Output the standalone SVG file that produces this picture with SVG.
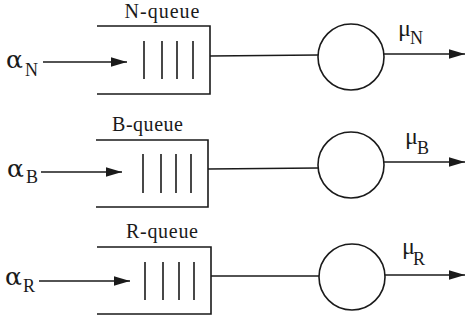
<svg xmlns="http://www.w3.org/2000/svg" width="465" height="322" viewBox="0 0 465 322">
  <defs>
    <style>
      .ln { stroke: #1a1a1a; stroke-width: 1.6; fill: none; }
      .bar { stroke: #1a1a1a; stroke-width: 1.6; }
      .srv { stroke: #1a1a1a; stroke-width: 1.6; fill: #ffffff; }
      .qlab { font-family: "Liberation Serif", "Times New Roman", serif; font-size: 20px; fill: #1a1a1a; }
      .alpha { font-family: "DejaVu Serif", "Liberation Serif", serif; font-size: 25px; fill: #1a1a1a; }
      .mu { font-family: "Liberation Serif", "Times New Roman", serif; font-size: 24px; fill: #1a1a1a; }
      .sub { font-family: "Liberation Serif", "Times New Roman", serif; font-size: 18px; fill: #1a1a1a; }
    </style>
    <marker id="arrow" viewBox="0 0 10 6" refX="10" refY="3" markerWidth="10" markerHeight="6" markerUnits="strokeWidth" orient="auto">
      <path d="M0,0 L10,3 L0,6 Z" fill="#1a1a1a"/>
    </marker>
  </defs>
  <rect width="465" height="322" fill="#ffffff"/>

  <!-- N queue -->
  <g id="queue-N">
    <path class="ln" d="M97,26 H210 V94 H97"/>
    <line class="bar" x1="144" y1="41" x2="144" y2="79"/>
    <line class="bar" x1="162" y1="41" x2="162" y2="79"/>
    <line class="bar" x1="177" y1="41" x2="177" y2="79"/>
    <line class="bar" x1="193" y1="41" x2="193" y2="79"/>
    <text class="qlab" x="162" y="18" text-anchor="middle" textLength="75">N-queue</text>
  </g>
  <g id="server-N">
    <circle class="srv" cx="351" cy="57" r="33"/>
  </g>

  <!-- B queue -->
  <g id="queue-B">
    <path class="ln" d="M96,140 H208 V207 H96"/>
    <line class="bar" x1="143" y1="154" x2="143" y2="193"/>
    <line class="bar" x1="161" y1="154" x2="161" y2="193"/>
    <line class="bar" x1="176" y1="154" x2="176" y2="193"/>
    <line class="bar" x1="191" y1="154" x2="191" y2="193"/>
    <text class="qlab" x="147.5" y="131" text-anchor="middle" textLength="71">B-queue</text>
  </g>
  <g id="server-B">
    <circle class="srv" cx="351" cy="165" r="33"/>
  </g>

  <!-- R queue -->
  <g id="queue-R">
    <path class="ln" d="M97,247 H211 V314 H97"/>
    <line class="bar" x1="145" y1="262" x2="145" y2="300"/>
    <line class="bar" x1="163" y1="262" x2="163" y2="300"/>
    <line class="bar" x1="179" y1="262" x2="179" y2="300"/>
    <line class="bar" x1="194" y1="262" x2="194" y2="300"/>
    <text class="qlab" x="162" y="238" text-anchor="middle" textLength="72">R-queue</text>
  </g>
  <g id="server-R">
    <circle class="srv" cx="352" cy="277" r="33"/>
  </g>

  <!-- arrivals, queue-to-server links, departures -->
  <g id="connectors">
    <line class="ln" x1="43" y1="62" x2="127" y2="62" marker-end="url(#arrow)"/>
    <line class="ln" x1="41" y1="172" x2="122" y2="172" marker-end="url(#arrow)"/>
    <line class="ln" x1="39" y1="281" x2="130" y2="281" marker-end="url(#arrow)"/>

    <line class="ln" x1="210" y1="56" x2="318" y2="55"/>
    <line class="ln" x1="208" y1="169" x2="318" y2="168"/>
    <line class="ln" x1="211" y1="276" x2="319" y2="276"/>

    <line class="ln" x1="384" y1="54" x2="465" y2="54" marker-end="url(#arrow)"/>
    <line class="ln" x1="384" y1="162" x2="465" y2="162" marker-end="url(#arrow)"/>
    <line class="ln" x1="385" y1="275" x2="465" y2="275" marker-end="url(#arrow)"/>
  </g>

  <!-- arrival and service rates -->
  <g id="rates">
    <text class="alpha" x="6" y="68">α</text><text class="sub" x="25" y="76">N</text>
    <text class="alpha" x="7" y="177">α</text><text class="sub" x="26" y="183">B</text>
    <text class="alpha" x="5" y="285">α</text><text class="sub" x="23" y="292">R</text>

    <text class="mu" x="398" y="36">μ</text><text class="sub" x="410" y="44">N</text>
    <text class="mu" x="405" y="144">μ</text><text class="sub" x="417" y="154">B</text>
    <text class="mu" x="402" y="254">μ</text><text class="sub" x="413" y="265">R</text>
  </g>
</svg>
